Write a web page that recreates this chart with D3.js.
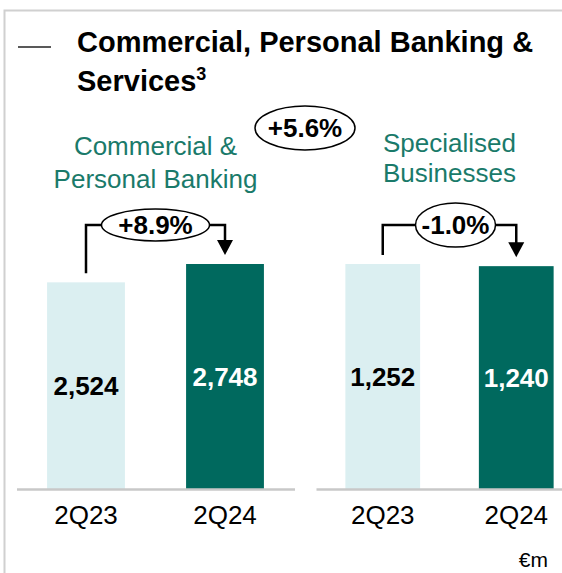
<!DOCTYPE html>
<html>
<head>
<meta charset="utf-8">
<script src="https://cdn.jsdelivr.net/npm/d3@7"></script>
<style>
	body { margin: 0; background: #fff; }
	text { font-family: 'Liberation Sans', Arial, sans-serif; }
</style>
</head>
<body>
<script>
'use strict';

// chart data
var quarters = ['2Q23', '2Q24'],
	cpbValues = [2524, 2748],
	sbValues = [1252, 1240],
	panelLabels = [['Commercial &', 'Personal Banking'], ['Specialised', 'Businesses']],
	panelChanges = ['+8.9%', '-1.0%'],
	totalChange = '+5.6%',
	unitLabel = '\u20acm',

// styles
barColors = ['#dbeff1', '#00695e'],
valueColors = ['#000', '#fff'],
teal = '#1a7a6a',
frameColor = '#d0d0d0',

width = 562,
height = 573,
baseline = 489,
topBar = 264;

var svg = d3.select('body').append('svg')
	.attr('width', width)
	.attr('height', height);

// panel definitions: x range, values, ellipse size
var panels = [
	{values: cpbValues, range: [16.5, 294.5], label: panelLabels[0], labelY: [155, 188],
		change: panelChanges[0], rx: 54, ry: 16, dx: 0},
	{values: sbValues, range: [316, 583], label: panelLabels[1], labelY: [152, 182],
		change: panelChanges[1], rx: 40, ry: 22, dx: 6}
];

drawFrame();
drawTitle();
panels.forEach(drawPanel);
drawTotal();

/*
* Light grey frame on top and left.
*/
function drawFrame() {
	svg.append('path')
		.attr('d', 'M4.5,' + height + 'V10.5H' + width)
		.attr('fill', 'none')
		.attr('stroke', frameColor)
		.attr('stroke-width', 2);
};

/*
* Title with dash in front.
*/
function drawTitle() {
	svg.append('line')
		.attr('x1', 18).attr('x2', 51)
		.attr('y1', 47).attr('y2', 47)
		.attr('stroke', '#222')
		.attr('stroke-width', 1.5);

	var title = svg.append('text')
		.attr('x', 77)
		.attr('font-size', 29)
		.attr('font-weight', 'bold')
		.attr('fill', '#000');

	title.append('tspan')
		.attr('x', 77).attr('y', 52)
		.text('Commercial, Personal Banking &');

	title.append('tspan')
		.attr('x', 77).attr('y', 91)
		.text('Services');
	title.append('tspan')
		.attr('dy', -11)
		.attr('font-size', 18)
		.text('3');
};

/*
* Draws one panel: bars, values, axis, label and change arrow.
*/
function drawPanel(p) {
	var x = d3.scaleBand()
		.domain(quarters)
		.range(p.range)
		.paddingInner(0.44)
		.paddingOuter(0.22);

	var y = d3.scaleLinear()
		.domain([0, d3.max(p.values)])
		.range([baseline, topBar]);

	var g = svg.append('g');

	g.selectAll('.bar')
		.data(p.values).enter()
		.append('rect')
			.attr('class', 'bar')
			.attr('x', function(d, i) { return x(quarters[i]); })
			.attr('y', function(d) { return y(d); })
			.attr('width', x.bandwidth())
			.attr('height', function(d) { return baseline - y(d); })
			.attr('fill', function(d, i) { return barColors[i]; });

	g.selectAll('.value')
		.data(p.values).enter()
		.append('text')
			.attr('class', 'value')
			.attr('x', function(d, i) { return x(quarters[i]) + x.bandwidth() / 2; })
			.attr('y', function(d) { return (y(d) + baseline) / 2; })
			.attr('dy', '0.35em')
			.attr('text-anchor', 'middle')
			.attr('font-size', 26)
			.attr('font-weight', 'bold')
			.attr('fill', function(d, i) { return valueColors[i]; })
			.text(d3.format(','));

	// axis with category labels
	var axis = g.append('g')
		.attr('transform', 'translate(0,' + baseline + ')')
		.call(d3.axisBottom(x).tickSize(0).tickSizeOuter(0).tickPadding(17));
	axis.select('.domain')
		.attr('stroke', '#c8c8c8')
		.attr('stroke-width', 2.5);
	axis.selectAll('text')
		.attr('font-size', 26)
		.attr('font-family', null)
		.attr('fill', '#000');

	// panel label in teal
	var cx0 = x(quarters[0]) + x.bandwidth() / 2,
		cx1 = x(quarters[1]) + x.bandwidth() / 2,
		mid = (cx0 + cx1) / 2;

	g.selectAll('.plabel')
		.data(p.label).enter()
		.append('text')
			.attr('class', 'plabel')
			.attr('x', mid)
			.attr('y', function(d, i) { return p.labelY[i]; })
			.attr('text-anchor', 'middle')
			.attr('font-size', 26)
			.attr('fill', teal)
			.text(function(d) { return d; });

	// change connector from first bar to second bar
	var lineY = topBar - 39,
		ex = mid + p.dx,
		start = y(p.values[0]) - 9,
		end = y(p.values[1]) - 9;

	g.append('path')
		.attr('d', 'M' + cx0 + ',' + start + 'V' + lineY + 'H' + (ex - p.rx))
		.attr('fill', 'none')
		.attr('stroke', '#000')
		.attr('stroke-width', 2.5);

	g.append('path')
		.attr('d', 'M' + (ex + p.rx) + ',' + lineY + 'H' + cx1 + 'V' + (end - 14))
		.attr('fill', 'none')
		.attr('stroke', '#000')
		.attr('stroke-width', 2.5);

	g.append('path')
		.attr('d', 'M' + (cx1 - 8) + ',' + (end - 15) + 'L' + (cx1 + 8) + ',' + (end - 15) +
			'L' + cx1 + ',' + end + 'Z')
		.attr('fill', '#000');

	drawBubble(g, ex, lineY, p.rx, p.ry, p.change);
};

/*
* Ellipse with a bold percentage inside.
*/
function drawBubble(g, cx, cy, rx, ry, s) {
	g.append('ellipse')
		.attr('cx', cx).attr('cy', cy)
		.attr('rx', rx).attr('ry', ry)
		.attr('fill', '#fff')
		.attr('stroke', '#000')
		.attr('stroke-width', 1.5);

	g.append('text')
		.attr('x', cx).attr('y', cy)
		.attr('dy', '0.35em')
		.attr('text-anchor', 'middle')
		.attr('font-size', 26)
		.attr('font-weight', 'bold')
		.attr('fill', '#000')
		.text(s);
};

/*
* Total change bubble and unit label.
*/
function drawTotal() {
	drawBubble(svg, 305, 128, 50, 22, totalChange);

	svg.append('text')
		.attr('x', 548)
		.attr('y', 567)
		.attr('text-anchor', 'end')
		.attr('font-size', 21)
		.attr('fill', '#000')
		.text(unitLabel);
};
</script>
</body>
</html>
